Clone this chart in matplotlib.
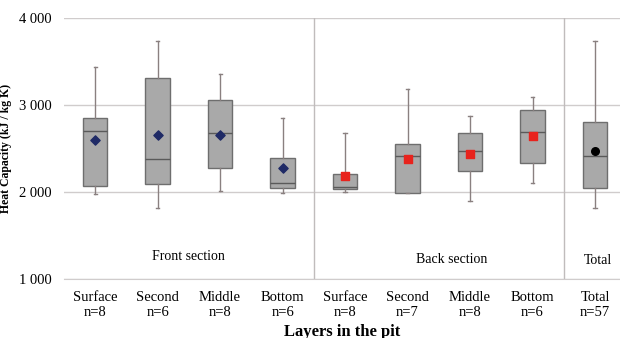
import matplotlib
matplotlib.use('Agg')
import matplotlib.pyplot as plt

# Values (kJ / kg K)
layers = ['Surface', 'Second', 'Middle', 'Bottom',
          'Surface', 'Second', 'Middle', 'Bottom', 'Total']
counts = [8, 6, 8, 6, 8, 7, 8, 6, 57]
whis_lo = [1977, 1816, 2011, 1990, 2000, 1990, 1897, 2103, 1816]
q1 = [2070, 2090, 2276, 2045, 2035, 1992, 2241, 2333, 2046]
median = [2700, 2380, 2678, 2100, 2060, 2414, 2471, 2690, 2414]
q3 = [2850, 3310, 3057, 2390, 2207, 2552, 2678, 2943, 2805]
whis_hi = [3437, 3736, 3356, 2850, 2678, 3184, 2874, 3092, 3736]
mean = [2600, 2655, 2655, 2276, 2184, 2379, 2437, 2644, 2471]
sections = ['Front section', 'Back section', 'Total']

plt.rcParams['font.family'] = ['Liberation Serif', 'DejaVu Serif']

fig = plt.figure(figsize=(6.2, 3.38), dpi=100)
ax = fig.add_axes([0.103, 0.175, 0.897, 0.772])

stats = []
for i in range(len(layers)):
    stats.append({'whislo': whis_lo[i], 'q1': q1[i], 'med': median[i],
                  'q3': q3[i], 'whishi': whis_hi[i], 'fliers': []})

ax.bxp(stats, positions=range(len(layers)), widths=0.39, patch_artist=True,
       showfliers=False,
       boxprops=dict(facecolor='#a9a9a9', edgecolor='#6e6e6e', linewidth=1),
       medianprops=dict(color='#5a5a5a', linewidth=1),
       whiskerprops=dict(color='#8a8080', linewidth=1),
       capprops=dict(color='#8a8080', linewidth=1),
       capwidths=0.05, zorder=3)

# means
ax.scatter(range(0, 4), mean[0:4], marker='D', s=22, color='#1f2a66', zorder=5)
ax.scatter(range(4, 8), mean[4:8], marker='s', s=40, color='#e8231d', zorder=5)
ax.scatter([8], mean[8:], marker='o', s=30, color='black', zorder=5)

ax.set_ylim(1000, 4000)
ax.set_xlim(-0.5, 8.4)
ax.set_yticks([1000, 2000, 3000, 4000])
ax.set_yticklabels(['1 000', '2 000', '3 000', '4 000'], fontsize=10.5)
ax.yaxis.grid(True, color='#d0cccc', linewidth=1)
ax.set_axisbelow(True)

for x in [3.5, 7.5]:
    ax.axvline(x, color='#c0bcbc', linewidth=1)

for s in ['left', 'right', 'top']:
    ax.spines[s].set_visible(False)
ax.spines['bottom'].set_color('#d0cccc')
ax.tick_params(length=0)
ax.tick_params(axis='y', pad=9)

ax.set_xticks(range(len(layers)))
ax.set_xticklabels([f'{l}\nn={n}' for l, n in zip(layers, counts)], fontsize=10.5,
                   linespacing=1.2)
ax.tick_params(axis='x', pad=9)

ax.text(1.5, 1260, sections[0], ha='center', va='center', fontsize=10)
ax.text(5.7, 1220, sections[1], ha='center', va='center', fontsize=10)
ax.text(8.05, 1210, sections[2], ha='center', va='center', fontsize=10)

ax.set_ylabel('Heat Capacity (kJ / kg K)', fontsize=8.5, fontweight='bold')
ax.yaxis.set_label_coords(-0.093, 0.5)
ax.set_xlabel('Layers in the pit', fontsize=12, fontweight='bold', labelpad=3)

fig.savefig('out.png', dpi=100)
